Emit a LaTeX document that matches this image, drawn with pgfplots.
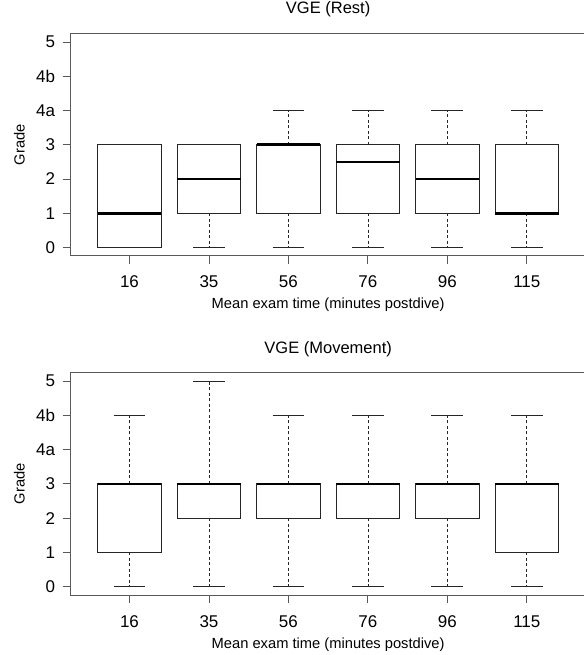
\documentclass[border=0pt]{standalone}
\usepackage{pgfplots}
\pgfplotsset{compat=1.18}
\usepgfplotslibrary{statistics}
\usepackage{fontspec}
\setmainfont{Liberation Sans}
\definecolor{frame}{gray}{0.35}
\definecolor{boxc}{gray}{0.15}
\newcommand{\ff}{\fontsize{14.7}{17}\selectfont}
\newcommand{\ft}{\fontsize{17}{20}\selectfont}
\newcommand{\fti}{\fontsize{16.5}{19}\selectfont}

\pgfplotsset{
  vge/.style={
    scale only axis,
    width=514.9pt,
    xmin=0.26, xmax=6.74,
    ymin=-0.24, ymax=6.24,
    xtick={1,2,3,4,5,6},
    xticklabels={16,35,56,76,96,115},
    ytick={0,1,2,3,4,5,6},
    yticklabels={0,1,2,3,4a,4b,5},
    tick align=outside,
    xtick pos=bottom, ytick pos=left,
    major tick length=8pt,
    tick style={frame, line width=0.8pt},
    axis line style={frame, line width=1pt},
    every x tick label/.style={anchor=center, inner sep=0pt, font=\ft},
    every y tick label/.style={anchor=east, inner sep=0pt, font=\ft},
    every axis y label/.style={at={(axis description cs:-0.0998,0.5)}, rotate=90, anchor=center, font=\ff},
    label style={font=\ff},
    /pgf/number format/assume math mode=true,
    boxplot/draw direction=y,
    boxplot/box extend=0.8,
    boxplot/whisker extend=0.4,
    boxplot/draw/lower whisker/.code={%
      \draw[boxc, line width=0.7pt, dash pattern=on 3pt off 2.5pt]
        (boxplot cs:\pgfplotsboxplotvalue{lower quartile}) --
        (boxplot cs:\pgfplotsboxplotvalue{lower whisker});
      \draw[boxc, line width=0.8pt]
        (boxplot whisker cs:\pgfplotsboxplotvalue{lower whisker},0) --
        (boxplot whisker cs:\pgfplotsboxplotvalue{lower whisker},1);
    },
    boxplot/draw/upper whisker/.code={%
      \draw[boxc, line width=0.7pt, dash pattern=on 3pt off 2.5pt]
        (boxplot cs:\pgfplotsboxplotvalue{upper quartile}) --
        (boxplot cs:\pgfplotsboxplotvalue{upper whisker});
      \draw[boxc, line width=0.8pt]
        (boxplot whisker cs:\pgfplotsboxplotvalue{upper whisker},0) --
        (boxplot whisker cs:\pgfplotsboxplotvalue{upper whisker},1);
    },
    boxplot/every box/.style={draw=boxc, line width=0.8pt, fill=white},
    boxplot/every median/.style={draw=black, line width=2.6pt},
  },
  bp/.style={boxplot prepared={draw position=#1}, draw=boxc, solid},
}

\begin{document}
\begin{tikzpicture}
\begin{axis}[vge,
  at={(70.7pt,-255.7pt)}, anchor=south west,
  height=222pt,
  title={VGE (Rest)},
  title style={at={(axis description cs:0.5,1.0842)}, anchor=center, inner sep=0pt, yshift=0pt, font=\fti},
  xlabel={Mean exam time (minutes postdive)},
  xlabel style={at={(axis description cs:0.5,-0.2221)}, anchor=center, inner sep=0pt, font=\ff},
  ylabel={Grade},
  xticklabel style={yshift=-18pt},
  yticklabel style={xshift=-7.5pt},
]
\addplot+[bp=1, boxplot prepared={lower whisker=0, lower quartile=0, median=1, upper quartile=3, upper whisker=3}] coordinates {};
\addplot+[bp=2, boxplot prepared={lower whisker=0, lower quartile=1, median=2, upper quartile=3, upper whisker=3}] coordinates {};
\addplot+[bp=3, boxplot prepared={lower whisker=0, lower quartile=1, median=3, upper quartile=3, upper whisker=4}] coordinates {};
\addplot+[bp=4, boxplot prepared={lower whisker=0, lower quartile=1, median=2.5, upper quartile=3, upper whisker=4}] coordinates {};
\addplot+[bp=5, boxplot prepared={lower whisker=0, lower quartile=1, median=2, upper quartile=3, upper whisker=4}] coordinates {};
\addplot+[bp=6, boxplot prepared={lower whisker=0, lower quartile=1, median=1, upper quartile=3, upper whisker=4}] coordinates {};
\end{axis}

\begin{axis}[vge,
  at={(70.7pt,-595pt)}, anchor=south west,
  height=222.3pt,
  title={VGE (Movement)},
  title style={at={(axis description cs:0.5,1.0796)}, anchor=center, inner sep=0pt, yshift=0pt, font=\fti},
  xlabel={Mean exam time (minutes postdive)},
  xlabel style={at={(axis description cs:0.5,-0.2249)}, anchor=center, inner sep=0pt, font=\ff},
  ylabel={Grade},
  xticklabel style={yshift=-18.7pt},
  yticklabel style={xshift=-7.5pt},
]
\addplot+[bp=1, boxplot prepared={lower whisker=0, lower quartile=1, median=3, upper quartile=3, upper whisker=5}] coordinates {};
\addplot+[bp=2, boxplot prepared={lower whisker=0, lower quartile=2, median=3, upper quartile=3, upper whisker=6}] coordinates {};
\addplot+[bp=3, boxplot prepared={lower whisker=0, lower quartile=2, median=3, upper quartile=3, upper whisker=5}] coordinates {};
\addplot+[bp=4, boxplot prepared={lower whisker=0, lower quartile=2, median=3, upper quartile=3, upper whisker=5}] coordinates {};
\addplot+[bp=5, boxplot prepared={lower whisker=0, lower quartile=2, median=3, upper quartile=3, upper whisker=5}] coordinates {};
\addplot+[bp=6, boxplot prepared={lower whisker=0, lower quartile=1, median=3, upper quartile=3, upper whisker=5}] coordinates {};
\end{axis}
\pgfresetboundingbox
\path[use as bounding box] (0,0) rectangle (583pt,-655pt);
\end{tikzpicture}
\end{document}
